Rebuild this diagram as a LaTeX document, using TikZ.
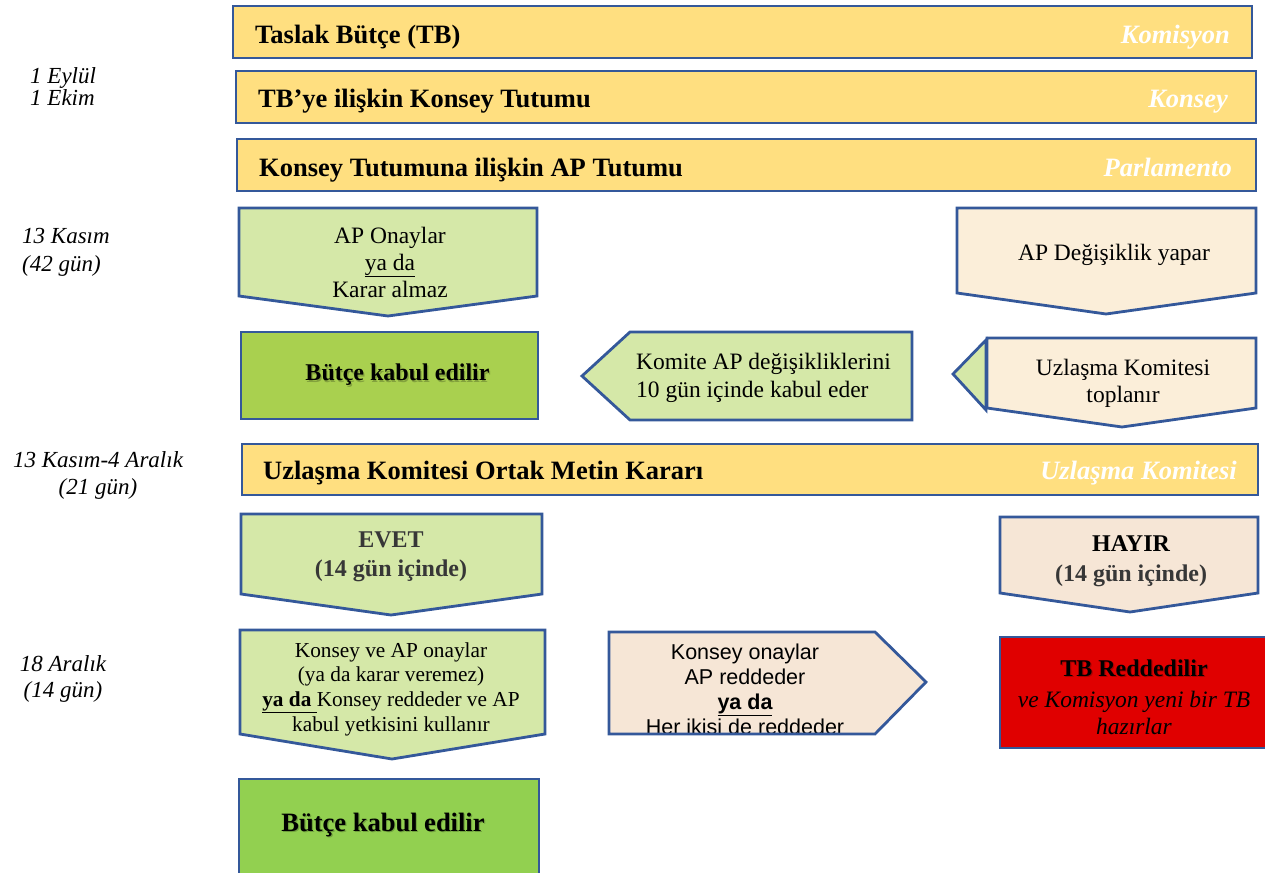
\documentclass[tikz,border=0pt]{standalone}
\usepackage{fontspec}
\setmainfont{Liberation Serif}
\newfontfamily\sansf{Liberation Sans}
\newcommand\myfs[2]{\fontsize{#1}{#2}\selectfont}
\definecolor{bord}{RGB}{52,88,154}
\definecolor{barfill}{RGB}{255,223,128}
\definecolor{lgreen}{RGB}{213,232,168}
\definecolor{greenA}{RGB}{169,208,79}
\definecolor{greenB}{RGB}{146,208,80}
\definecolor{beigeA}{RGB}{251,238,217}
\definecolor{beigeB}{RGB}{246,230,214}
\definecolor{redbox}{RGB}{224,0,0}
\definecolor{dgray}{RGB}{55,55,55}
\begin{document}
\begin{tikzpicture}[x=1pt,y=-1pt,
  shp/.style={draw=bord, line width=2.8pt, line join=miter},
  bar/.style={shp, fill=barfill},
  title/.style={font=\myfs{26.5}{30}\bfseries, anchor=base west, inner sep=0},
  role/.style={font=\myfs{26.5}{30}\bfseries\itshape, text=white, anchor=base east, inner sep=0},
  datelbl/.style={font=\itshape, inner sep=0},
  txt/.style={align=center, inner sep=0},
  shadowtxt/.style={text=black, text opacity=0.22, inner sep=0}
]
\clip (0,0) rectangle (1265,872);

% ---------- bars ----------
\draw[bar] (233,6) rectangle (1252,58);
\node[title] (t1) at (255,44) {Taslak Bütçe (TB)};
\node[role] (r1) at (1230,44) {Komisyon};
\draw[bar] (236,71) rectangle (1256,123);
\node[title] (t2) at (258,108) {TB’ye ilişkin Konsey Tutumu};
\node[role] (r2) at (1228,108) {Konsey};
\draw[bar] (237,139) rectangle (1256,191);
\node[title] (t3) at (259,176) {Konsey Tutumuna ilişkin AP Tutumu};
\node[role] (r3) at (1232,176) {Parlamento};
\draw[bar] (242,444) rectangle (1258,495);
\node[title] (t4) at (263,479) {Uzlaşma Komitesi Ortak Metin Kararı};
\node[role] (r4) at (1237,479) {Uzlaşma Komitesi};

% ---------- dates ----------
\node[datelbl, anchor=west, align=left, font=\myfs{23}{22}\itshape] (d1) at (30,87) {1 Eylül\\1 Ekim};
\node[datelbl, anchor=west, align=left, font=\myfs{23}{28}\itshape] (d2) at (22,252) {13 Kasım\\(42 gün)};
\node[datelbl, align=center, font=\myfs{23}{27}\itshape] (d3) at (98,475) {13 Kasım-4 Aralık\\(21 gün)};
\node[datelbl, align=center, font=\myfs{23}{26}\itshape] (d4) at (63,679) {18 Aralık\\(14 gün)};

% ---------- row 1 ----------
\draw[shp, fill=lgreen] (239,208) -- (537,208) -- (537,296) -- (388,316) -- (239,296) -- cycle;
\node[txt, font=\myfs{23.5}{27}] (p1) at (390,262) {AP Onaylar\\\underline{ya da}\\Karar almaz};
\draw[shp, fill=beigeA] (957,208) -- (1256,208) -- (1256,293) -- (1106,314) -- (957,293) -- cycle;
\node[txt, font=\myfs{23.5}{27}] (p2) at (1114,255) {AP Değişiklik yapar};

% ---------- row 2 ----------
\draw[shp, fill=greenA] (241,332) rectangle (538,419);
\node[shadowtxt, font=\myfs{24}{28}\bfseries] (b1s) at (398.7,376.5) {Bütçe kabul edilir};
\node[txt, font=\myfs{24}{28}\bfseries] (b1) at (397.5,375) {Bütçe kabul edilir};
\draw[shp, fill=lgreen] (582,376) -- (630,332) -- (912,332) -- (912,420) -- (630,420) -- cycle;
\node[txt, align=left, anchor=west, font=\myfs{23.5}{28}] (k1) at (636,378) {Komite AP değişikliklerini\\10 gün içinde kabul eder};
\draw[shp, fill=lgreen] (986,340) -- (953,374) -- (986,410) -- cycle;
\draw[shp, fill=beigeA] (987,338) -- (1256,338) -- (1256,408) -- (1122,427) -- (987,408) -- cycle;
\node[txt, font=\myfs{23.5}{27}] (u1) at (1123,383) {Uzlaşma Komitesi\\toplanır};

% ---------- row 3 ----------
\draw[shp, fill=lgreen] (241,514) -- (542,514) -- (542,594) -- (391,615) -- (241,594) -- cycle;
\node[txt, text=dgray, font=\myfs{24}{29}\bfseries] (e1) at (391,557) {EVET\\(14 gün içinde)};
\draw[shp, fill=beigeB] (1000,517) -- (1258,517) -- (1258,593) -- (1130,612) -- (1000,593) -- cycle;
\node[txt, text=dgray, font=\myfs{24}{30}\bfseries] (h1) at (1131,561) {\textcolor{black}{HAYIR}\\(14 gün içinde)};

% ---------- row 4 ----------
\draw[shp, fill=lgreen] (240,630) -- (545,630) -- (545,734) -- (392,759) -- (240,734) -- cycle;
\node[txt, font=\myfs{21.3}{24.7}] (c1) at (391,689) {Konsey ve AP onaylar\\(ya da karar veremez)\\\textbf{\underline{ya da\ }}Konsey reddeder ve AP\\kabul yetkisini kullanır};
\fill[beigeB] (609,632) -- (875,632) -- (926,682) -- (875,734) -- (609,734) -- cycle;
\node[txt, font=\sansf\myfs{21.5}{25}] (s1) at (745,689.5) {Konsey onaylar\\AP reddeder\\\textbf{\underline{ya da}}\\Her ikisi de reddeder};
\draw[shp] (609,632) -- (875,632) -- (926,682) -- (875,734) -- (609,734) -- cycle;
\draw[shp, fill=redbox] (1000,637) rectangle (1270,748);
\node[shadowtxt, font=\myfs{24}{28}\bfseries] (tb1s) at (1135.2,669.5) {TB Reddedilir};
\node[txt, font=\myfs{24}{28}\bfseries] (tb1) at (1134,668) {TB Reddedilir};
\node[txt, font=\myfs{23.5}{27}\itshape] (tb2) at (1134,712.5) {ve Komisyon yeni bir TB\\hazırlar};

% ---------- row 5 ----------
\draw[shp, fill=greenB] (239,779) rectangle (539,885);
\node[shadowtxt, font=\myfs{26.5}{30}\bfseries] (b2s) at (384.2,826.5) {Bütçe kabul edilir};
\node[txt, font=\myfs{26.5}{30}\bfseries] (b2) at (383,825) {Bütçe kabul edilir};
\end{tikzpicture}
\end{document}
